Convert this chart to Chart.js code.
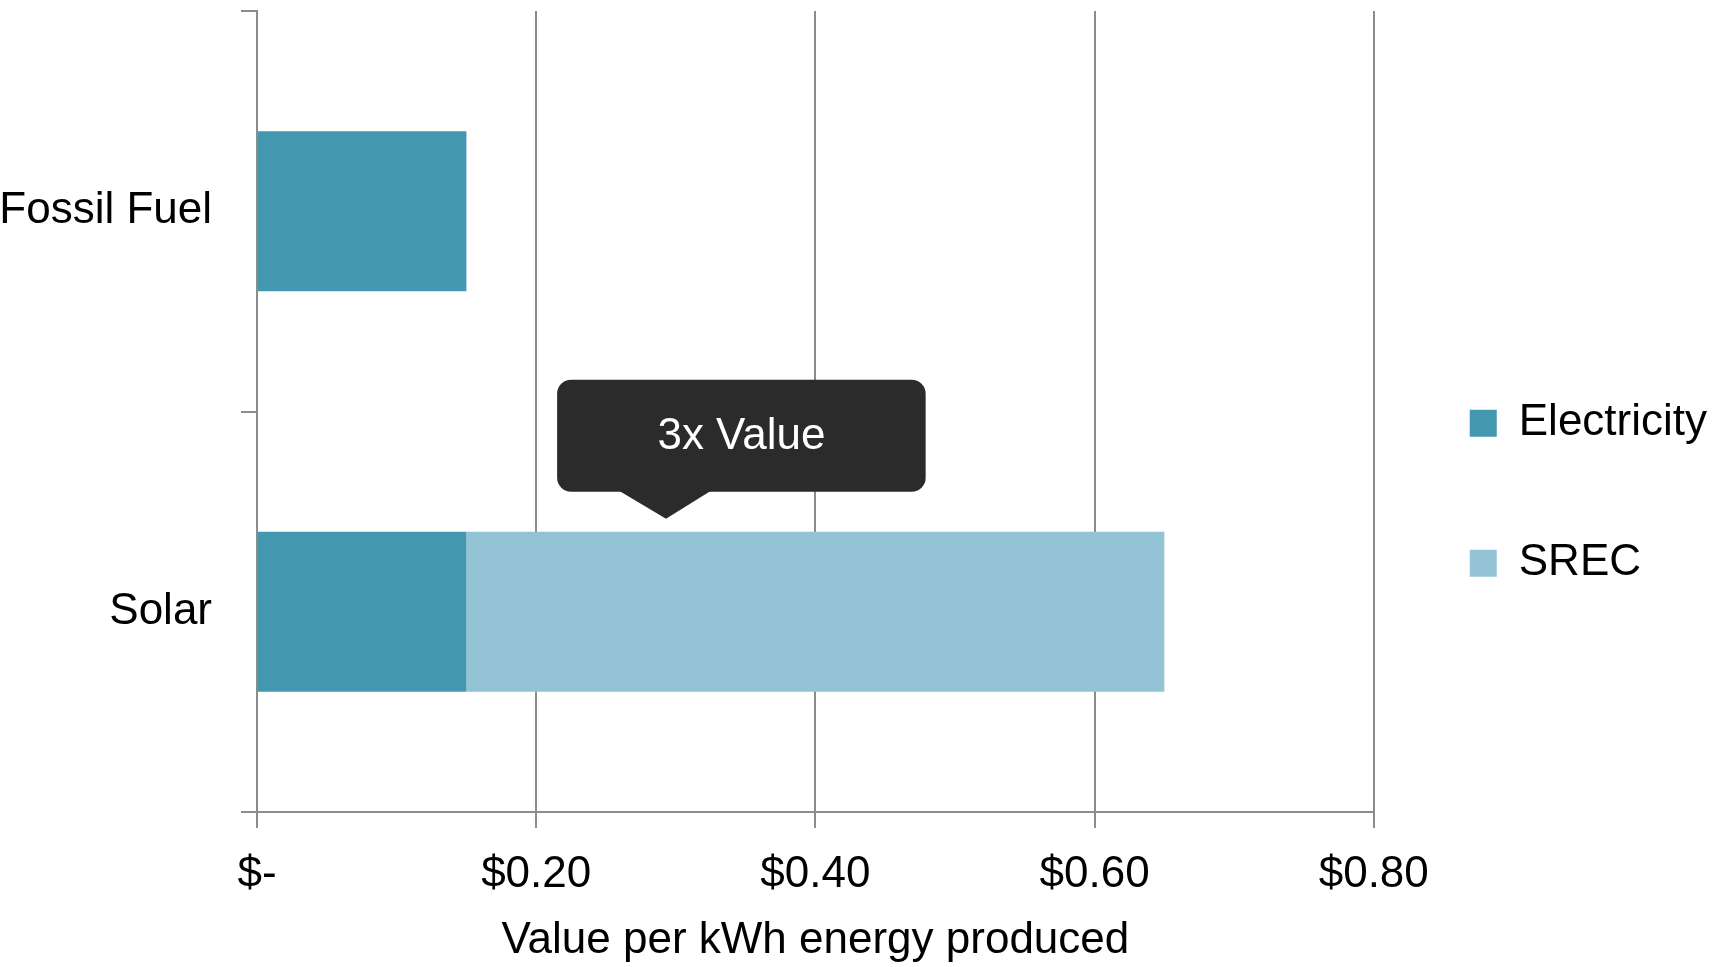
<!DOCTYPE html>
<html>
<head>
<meta charset="utf-8">
<script src="https://cdn.jsdelivr.net/npm/chart.js@4/dist/chart.umd.min.js"></script>
<style>
  html, body { margin: 0; padding: 0; background: #fff; }
  #wrap { width: 1713px; height: 967px; }
</style>
</head>
<body>
<div id="wrap"><canvas id="valueChart"></canvas></div>
<script>
// data
var categories = ['Fossil Fuel', 'Solar'];
var electricity = [0.15, 0.15];
var srec = [null, 0.50];
var xMin = 0, xMax = 0.8, xStep = 0.2;
var axisTitle = 'Value per kWh energy produced';
var calloutText = '3x Value';

var gridColor = '#8c8c8c';
var font = { family: "'Liberation Sans', Arial, sans-serif", size: 44 };

// dark callout with a pointer, sitting above the Solar bar
var callout = {
    id: 'callout',
    afterDatasetsDraw: function (chart) {
        var x = chart.scales.x, y = chart.scales.y;
        var ctx = chart.ctx;
        var cy = y.getPixelForValue(1);
        var left = x.getPixelForValue(0.215), right = x.getPixelForValue(0.479);
        var top = cy - 232, bottom = cy - 120;
        var tipX = x.getPixelForValue(0.293), tipY = cy - 93;
        ctx.save();
        ctx.fillStyle = '#2b2b2b';
        ctx.beginPath();
        ctx.roundRect(left, top, right - left, bottom - top, 14);
        ctx.fill();
        ctx.beginPath();
        ctx.moveTo(tipX - 47, bottom - 1);
        ctx.lineTo(tipX + 45, bottom - 1);
        ctx.lineTo(tipX, tipY);
        ctx.closePath();
        ctx.fill();
        ctx.fillStyle = '#ffffff';
        ctx.font = font.size + 'px ' + font.family;
        ctx.textAlign = 'center';
        ctx.textBaseline = 'middle';
        ctx.fillText(calloutText, (left + right) / 2, (top + bottom) / 2 + 1);
        ctx.restore();
    }
};

var ctx = document.getElementById('valueChart').getContext('2d');
var valueChart = new Chart(ctx, {
    type: 'bar',
    data: {
        labels: categories,
        datasets: [{
            label: 'Electricity',
            data: electricity,
            backgroundColor: '#4398b0',
            borderWidth: 0
        }, {
            label: 'SREC',
            data: srec,
            backgroundColor: '#94c3d5',
            borderWidth: 0
        }]
    },
    options: {
        indexAxis: 'y',
        responsive: true,
        maintainAspectRatio: false,
        animation: false,
        barPercentage: 0.4,
        categoryPercentage: 1,
        layout: { padding: { top: 11, left: 0, right: -4, bottom: 0 } },
        scales: {
            x: {
                stacked: true,
                min: xMin,
                max: xMax,
                afterFit: function (scale) {
                    scale.height = 155;
                    scale.paddingRight = 0;
                    scale.paddingLeft = 0;
                },
                ticks: {
                    stepSize: xStep,
                    color: '#000',
                    font: font,
                    padding: 20,
                    maxRotation: 0,
                    callback: function (v) { return v === 0 ? '$-' : '$' + v.toFixed(2); }
                },
                grid: { color: gridColor, lineWidth: 2, tickLength: 16, tickColor: gridColor },
                border: { color: gridColor, width: 2 },
                title: {
                    display: true,
                    text: axisTitle,
                    color: '#000',
                    font: font,
                    padding: { top: 13, bottom: 0 }
                }
            },
            y: {
                stacked: true,
                afterFit: function (scale) {
                    scale.width = 257;
                    scale.paddingTop = 0;
                    scale.paddingBottom = 0;
                },
                ticks: { color: '#000', font: font, padding: 29 },
                grid: {
                    offset: true,
                    drawOnChartArea: false,
                    tickLength: 16,
                    color: gridColor,
                    lineWidth: 2
                },
                border: { color: gridColor, width: 2 }
            }
        },
        plugins: {
            legend: {
                position: 'right',
                align: 'center',
                title: { display: true, text: '', padding: 0, font: { size: 7 } },
                labels: {
                    color: '#000',
                    font: font,
                    boxWidth: 27,
                    boxHeight: 27,
                    padding: 96
                }
            },
            tooltip: { enabled: false }
        }
    },
    plugins: [callout]
});
</script>
</body>
</html>
